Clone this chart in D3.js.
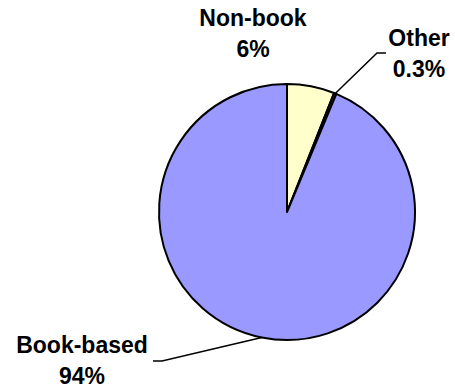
<!DOCTYPE html>
<html>
<head>
<meta charset="utf-8">
<script src="https://cdn.jsdelivr.net/npm/d3@7"></script>
<style>
  body { margin: 0; background: #fff; }
  text { font-family: "Liberation Sans", Arial, sans-serif; font-weight: bold; font-size: 23px; fill: #000; }
</style>
</head>
<body>
<script>
// slices, clockwise from 12 o'clock
const categories = ["Non-book", "Other", "Book-based"];
const values = [6.0, 0.3, 93.7];
const pctLabels = ["6%", "0.3%", "94%"];
const colors = ["#FFFFCC", "#993366", "#9999FF"];

const width = 455;
const height = 391;
const cx = 287;
const cy = 212;
const radius = 128;

// label placement (centre x, first baseline) and leader elbow, per slice
const labelPos = [
  { x: 253, y: 26, elbow: null },
  { x: 419, y: 46, elbow: [377, 53], end: [386, 53] },
  { x: 82, y: 353, elbow: [162, 361], end: [153, 361] }
];

const svg = d3.select("body").append("svg")
  .attr("width", width)
  .attr("height", height);

const g = svg.append("g").attr("transform", `translate(${cx},${cy})`);

const pie = d3.pie().sort(null).value(d => d)(values);
const arc = d3.arc().innerRadius(0).outerRadius(radius);
const edge = d3.arc().innerRadius(radius).outerRadius(radius);

g.selectAll("path.slice")
  .data(pie)
  .enter()
    .append("path")
    .attr("class", "slice")
    .attr("d", arc)
    .attr("fill", (d, i) => colors[i])
    .attr("stroke", "#000")
    .attr("stroke-width", 2)
    .attr("stroke-linejoin", "round");

// leader lines
pie.forEach(function (d, i) {
  const p = labelPos[i];
  if (!p.elbow) return;
  const c = edge.centroid(d);
  const pts = [[c[0] + cx, c[1] + cy], p.elbow, p.end];
  svg.append("path")
    .attr("d", d3.line()(pts))
    .attr("fill", "none")
    .attr("stroke", "#000")
    .attr("stroke-width", 1.5);
});

// labels
categories.forEach(function (name, i) {
  const p = labelPos[i];
  const t = svg.append("text")
    .attr("text-anchor", "middle")
    .attr("x", p.x)
    .attr("y", p.y);
  t.append("tspan").attr("x", p.x).text(name);
  t.append("tspan").attr("x", p.x).attr("dy", 31).text(pctLabels[i]);
});
</script>
</body>
</html>
